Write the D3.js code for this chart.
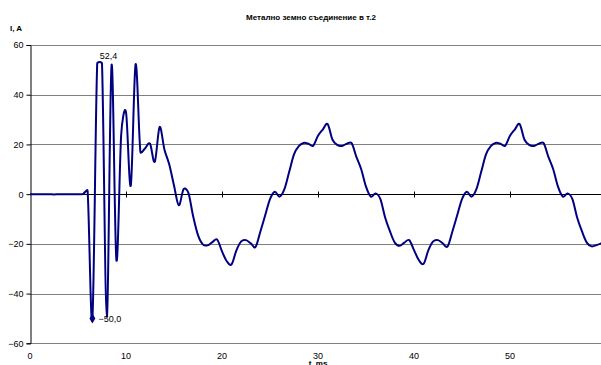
<!DOCTYPE html>
<html>
<head>
<meta charset="utf-8">
<script src="https://cdn.jsdelivr.net/npm/d3@7"></script>
<style>
  html, body { margin: 0; padding: 0; background: #fff; }
  svg { display: block; font-family: "Liberation Sans", Arial, sans-serif; }
</style>
</head>
<body>
<svg id="chart" width="601" height="365"></svg>
<script>
// Current in the earth connection at point 2, sampled every 0.5 ms
const timeMs = [
  0, 0.5, 1, 1.5, 2, 2.5, 3, 3.5, 4, 4.5, 5, 5.5, 6, 6.5, 7, 7.5, 8, 8.5, 9, 9.5,
  10, 10.5, 11, 11.5, 12, 12.5, 13, 13.5, 14, 14.5, 15, 15.5, 16, 16.5, 17, 17.5, 18, 18.5, 19, 19.5,
  20, 20.5, 21, 21.5, 22, 22.5, 23, 23.5, 24, 24.5, 25, 25.5, 26, 26.5, 27, 27.5, 28, 28.5, 29, 29.5,
  30, 30.5, 31, 31.5, 32, 32.5, 33, 33.5, 34, 34.5, 35, 35.5, 36, 36.5, 37, 37.5, 38, 38.5, 39, 39.5,
  40, 40.5, 41, 41.5, 42, 42.5, 43, 43.5, 44, 44.5, 45, 45.5, 46, 46.5, 47, 47.5, 48, 48.5, 49, 49.5,
  50, 50.5, 51, 51.5, 52, 52.5, 53, 53.5, 54, 54.5, 55, 55.5, 56, 56.5, 57, 57.5, 58, 58.5, 59, 59.5, 60
];
const currentA = [
  0, 0, 0, 0, 0, -0.1, 0, 0, 0, 0, 0, 0, 1.3, -50.0, 52.4, 52.4, -49.5, 52.0, -26.5, 24,
  33, 3.5, 52.2, 17, 18.5, 20.3, 13, 27, 18, 12, 3.5, -4.5, 2.0, 0.5, -9, -16.5, -20.2, -20.6, -19.3, -18.3,
  -23, -27, -28.2, -22.6, -19, -18.5, -19.8, -21.2, -15, -8.5, -2, 1, -1, 2, 9, 16, 19.3, 20.6, 20.3, 19.5,
  23.5, 26, 28.2, 22, 19.8, 19.4, 20.3, 20.5, 15, 10, 3, -1, 0.3, -2, -9.5, -15, -19.5, -20.8, -19.5, -18.5,
  -22.5, -26.5, -28, -22.5, -19, -18.5, -19.8, -21, -15, -8.5, -2, 1, -1, 2, 9, 16, 19.3, 20.6, 20.3, 19.5,
  23.5, 26, 28.2, 22, 19.8, 19.4, 20.3, 20.5, 15, 10, 3, -1, 0.3, -2, -9.5, -15, -19.5, -21, -20.5, -19.8, -18.5
];
const xTicks = [0, 10, 20, 30, 40, 50];
const yTicks = [-60, -40, -20, 0, 20, 40, 60];
// Points that carry a value label: index into the series
const labelledMax = 15;
const labelledMin = 13;

const title = "Метално земно съединение в т.2";
const yTitle = "I, A";
const xTitle = "t, ms";

const data = timeMs.map((t, i) => ({ t, v: currentA[i] }));
const svg = d3.select("#chart");
const W = 601, H = 365;

const x = d3.scaleLinear().domain([0, 60]).range([30, 606]);
const y = d3.scaleLinear().domain([-60, 60]).range([343.3, 45]);
const commaFmt = d3.formatLocale({ decimal: ",", thousands: " ", grouping: [3], currency: ["", ""] }).format(".1f");

// Smoothed-line curve: cubic Bezier segments whose handles follow the
// neighbouring points (1/6 of the chord) but never exceed half the segment,
// which keeps sharp spikes from overshooting.
function smoothClamped(context) {
  let pts = [];
  return {
    areaStart() {}, areaEnd() {},
    lineStart() { pts = []; },
    point(px, py) { pts.push([+px, +py]); },
    lineEnd() {
      const n = pts.length;
      if (!n) return;
      context.moveTo(pts[0][0], pts[0][1]);
      const handle = (prev, next, a, b) => {
        let hx = (next[0] - prev[0]) / 6, hy = (next[1] - prev[1]) / 6;
        const len = Math.hypot(hx, hy);
        const lim = Math.hypot(b[0] - a[0], b[1] - a[1]) / 2;
        if (len > lim && len > 0) { hx *= lim / len; hy *= lim / len; }
        return [hx, hy];
      };
      for (let i = 0; i < n - 1; i++) {
        const p0 = pts[Math.max(0, i - 1)], p1 = pts[i], p2 = pts[i + 1], p3 = pts[Math.min(n - 1, i + 2)];
        const h1 = handle(p0, p2, p1, p2);
        const h2 = handle(p1, p3, p1, p2);
        context.bezierCurveTo(p1[0] + h1[0], p1[1] + h1[1], p2[0] - h2[0], p2[1] - h2[1], p2[0], p2[1]);
      }
    }
  };
}

svg.append("rect").attr("width", W).attr("height", H).attr("fill", "#fff");

// horizontal gridlines
svg.append("g")
  .selectAll("line")
  .data(yTicks.filter(d => d !== 0))
  .join("line")
  .attr("x1", x(0)).attr("x2", W)
  .attr("y1", d => Math.round(y(d)) + 0.5).attr("y2", d => Math.round(y(d)) + 0.5)
  .attr("stroke", "#808080").attr("stroke-width", 1);

// y axis
const yAxis = d3.axisLeft(y).tickValues(yTicks).tickSize(4).tickPadding(3).tickFormat(d3.format("d"));
const gy = svg.append("g").attr("transform", `translate(${x(0) + 0.5},0)`).call(yAxis);
gy.select(".domain").attr("stroke", "#000");
gy.selectAll(".tick line").attr("stroke", "#000");
gy.selectAll(".tick text").attr("font-size", 9).attr("fill", "#000")
  .attr("font-family", "Liberation Sans, Arial, sans-serif");

// zero line with crossing ticks
const zeroY = Math.round(y(0)) + 0.5;
svg.append("line").attr("x1", x(0)).attr("x2", W).attr("y1", zeroY).attr("y2", zeroY)
  .attr("stroke", "#000").attr("stroke-width", 1);
svg.append("g").selectAll("line")
  .data(xTicks.filter(d => d !== 0))
  .join("line")
  .attr("x1", d => Math.round(x(d)) + 0.5).attr("x2", d => Math.round(x(d)) + 0.5)
  .attr("y1", zeroY - 3).attr("y2", zeroY + 3)
  .attr("stroke", "#000");

// x tick labels along the bottom
svg.append("g").selectAll("text")
  .data(xTicks)
  .join("text")
  .attr("x", d => x(d)).attr("y", 358.5)
  .attr("text-anchor", "middle").attr("font-size", 9).attr("fill", "#000")
  .text(d => d);

// series line
const line = d3.line().x(d => x(d.t)).y(d => y(d.v)).curve(smoothClamped);
svg.append("path").datum(data)
  .attr("d", line)
  .attr("fill", "none").attr("stroke", "#000080").attr("stroke-width", 2)
  .attr("stroke-linejoin", "round");

// marker on the minimum
const pMin = data[labelledMin];
svg.append("path")
  .attr("d", d3.symbol(d3.symbolDiamond, 30)())
  .attr("transform", `translate(${x(pMin.t)},${y(pMin.v)})`)
  .attr("fill", "#000080");
svg.append("text")
  .attr("x", x(pMin.t) + 6).attr("y", y(pMin.v) + 3.5)
  .attr("font-size", 9).attr("fill", "#000")
  .text(commaFmt(pMin.v));

// label on the maximum
const pMax = data[labelledMax];
svg.append("text")
  .attr("x", x(pMax.t) + 6.5).attr("y", y(pMax.v) - 4.5)
  .attr("text-anchor", "middle").attr("font-size", 9).attr("fill", "#000")
  .text(commaFmt(pMax.v));

// titles
svg.append("text").attr("x", 311).attr("y", 19.5)
  .attr("text-anchor", "middle").attr("font-size", 8).attr("font-weight", "bold")
  .text(title);
svg.append("text").attr("x", 10).attr("y", 31)
  .attr("font-size", 8).attr("font-weight", "bold")
  .text(yTitle);
svg.append("text").attr("x", x(30)).attr("y", 366)
  .attr("text-anchor", "middle").attr("font-size", 8).attr("font-weight", "bold")
  .text(xTitle);
</script>
</body>
</html>
